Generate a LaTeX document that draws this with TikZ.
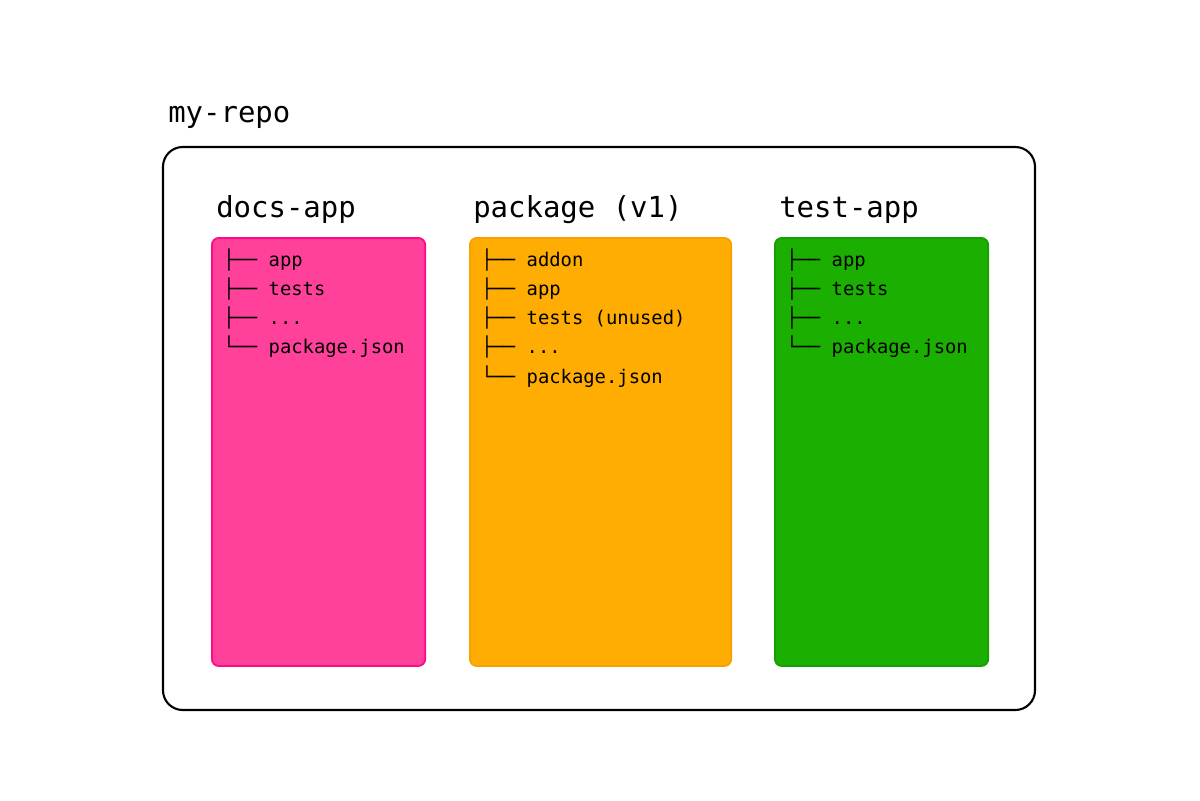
\documentclass[tikz,border=0pt]{standalone}
\usepackage{fontspec}
\setmonofont{DejaVu Sans Mono}
\usetikzlibrary{positioning}
\definecolor{docsfill}{HTML}{FF419C}
\definecolor{docsline}{HTML}{FF0A86}
\definecolor{pkgfill}{HTML}{FFAD03}
\definecolor{pkgline}{HTML}{F7A000}
\definecolor{testfill}{HTML}{1BAF01}
\definecolor{testline}{HTML}{159F00}
\newcommand\etcdots{...}
\begin{document}
\begin{tikzpicture}[x=0.025cm, y=-0.025cm,
      repo/.style = {draw=black, line width=1.5pt, rounded corners=14pt},
      folder/.style = {rectangle, rounded corners=5pt, line width=1.3pt,
         anchor=north west, minimum height=10.7cm},
      title/.style = {anchor=base west, inner sep=0pt,
         font=\ttfamily\fontsize{20.6}{24}\selectfont},
      entry/.style = {anchor=base west, inner sep=0pt,
         font=\ttfamily\fontsize{13.4}{16}\selectfont}
]
   \useasboundingbox (0,0) rectangle (1200,800);

   % repository
   \node[title] (repo) at (168,123) {my-repo};
   \draw[repo] (163,147) rectangle (1035,710);

   % folders
   \node[folder, fill=docsfill, draw=docsline, minimum width=5.33cm]
      (docs) at (211,237) {};
   \node[folder, fill=pkgfill, draw=pkgline, minimum width=6.53cm]
      (pkg) at (469,237) {};
   \node[folder, fill=testfill, draw=testline, minimum width=5.33cm]
      (test) at (774,237) {};

   % headings
   \node[title] (docs-title) at (216,218) {docs-app};
   \node[title] (pkg-title) at (473,218) {package (v1)};
   \node[title] (test-title) at (779,218) {test-app};

   % contents
   \foreach \txt [count=\i from 0] in {├── app, ├── tests, ├── \etcdots, └── package.json}
      \node[entry] (docs-\i) at (223,{266+29.3*\i}) {\txt};
   \foreach \txt [count=\i from 0] in {├── addon, ├── app, ├── tests (unused), ├── \etcdots, └── package.json}
      \node[entry] (pkg-\i) at (481,{266+29.3*\i}) {\txt};
   \foreach \txt [count=\i from 0] in {├── app, ├── tests, ├── \etcdots, └── package.json}
      \node[entry] (test-\i) at (786,{266+29.3*\i}) {\txt};
\end{tikzpicture}
\end{document}
